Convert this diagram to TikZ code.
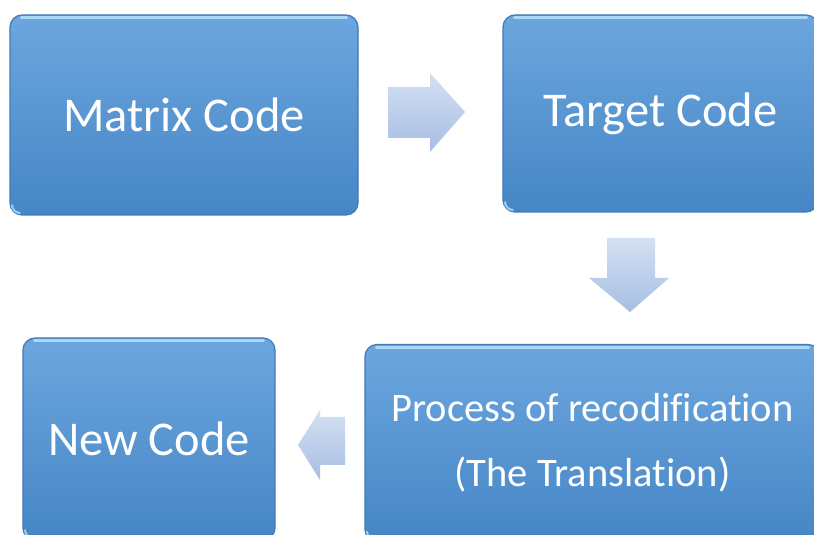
\documentclass[tikz,border=0pt]{standalone}
\usepackage{fontspec}
\setmainfont[Ligatures={NoCommon}]{Carlito}
\definecolor{boxtop}{HTML}{6CA6DE}
\definecolor{boxbot}{HTML}{4686C6}
\definecolor{boxedge}{HTML}{3F7AB6}
\definecolor{boxhl}{HTML}{B5E0F8}
\definecolor{arrtop}{HTML}{D3E0F2}
\definecolor{arrbot}{HTML}{A7BEE3}
\tikzset{
  box/.style={draw=boxedge, line width=1.2pt, rounded corners=12pt,
    top color=boxtop, bottom color=boxbot, text=white, align=center, inner sep=0pt},
  bigtext/.style={font=\fontsize{48.5}{58}\selectfont},
  smalltext/.style={font=\fontsize{40.5}{65}\selectfont},
  blockarrow/.style={top color=arrtop, bottom color=arrbot, draw=none},
  hl/.style={draw=boxhl, line width=3pt, line cap=round, opacity=0.85}
}
\begin{document}
\begin{tikzpicture}[x=1pt,y=1pt]
\clip (0,0) rectangle (814,535);
\fill[white] (0,0) rectangle (814,535);
\node[box, bigtext, minimum width=348pt, minimum height=200pt] (matrix) at (184,420) {Matrix Code};
\node[box, bigtext, minimum width=315pt, minimum height=197pt] (target) at (660.5,421.5) {Target Code};
\node[box, smalltext, minimum width=455pt, minimum height=197pt] (process) at (592.5,92) {Process of recodification\\(The Translation)};
\node[box, bigtext, minimum width=252pt, minimum height=202pt] (new) at (149,96) {New Code};
\foreach \n in {matrix,target,process,new}{
  \draw[hl] ([xshift=12pt,yshift=-3.5pt]\n.north west) -- ([xshift=-12pt,yshift=-3.5pt]\n.north east);
  \draw[draw=boxhl, line width=2pt, opacity=0.8] ([xshift=2.5pt,yshift=11pt]\n.south west) arc (180:270:8.5pt);
}
% arrows
\path[blockarrow] (388,448) -- (430,448) -- (430,462) -- (465,423) -- (430,383) -- (430,397) -- (388,397) -- cycle;
\path[blockarrow] (607,297) -- (655,297) -- (655,257) -- (669,257) -- (630,223) -- (589,257) -- (607,257) -- cycle;
\path[blockarrow] (345,118) -- (320,118) -- (320,125) -- (298,90) -- (320,55) -- (320,70) -- (345,70) -- cycle;
\end{tikzpicture}
\end{document}
